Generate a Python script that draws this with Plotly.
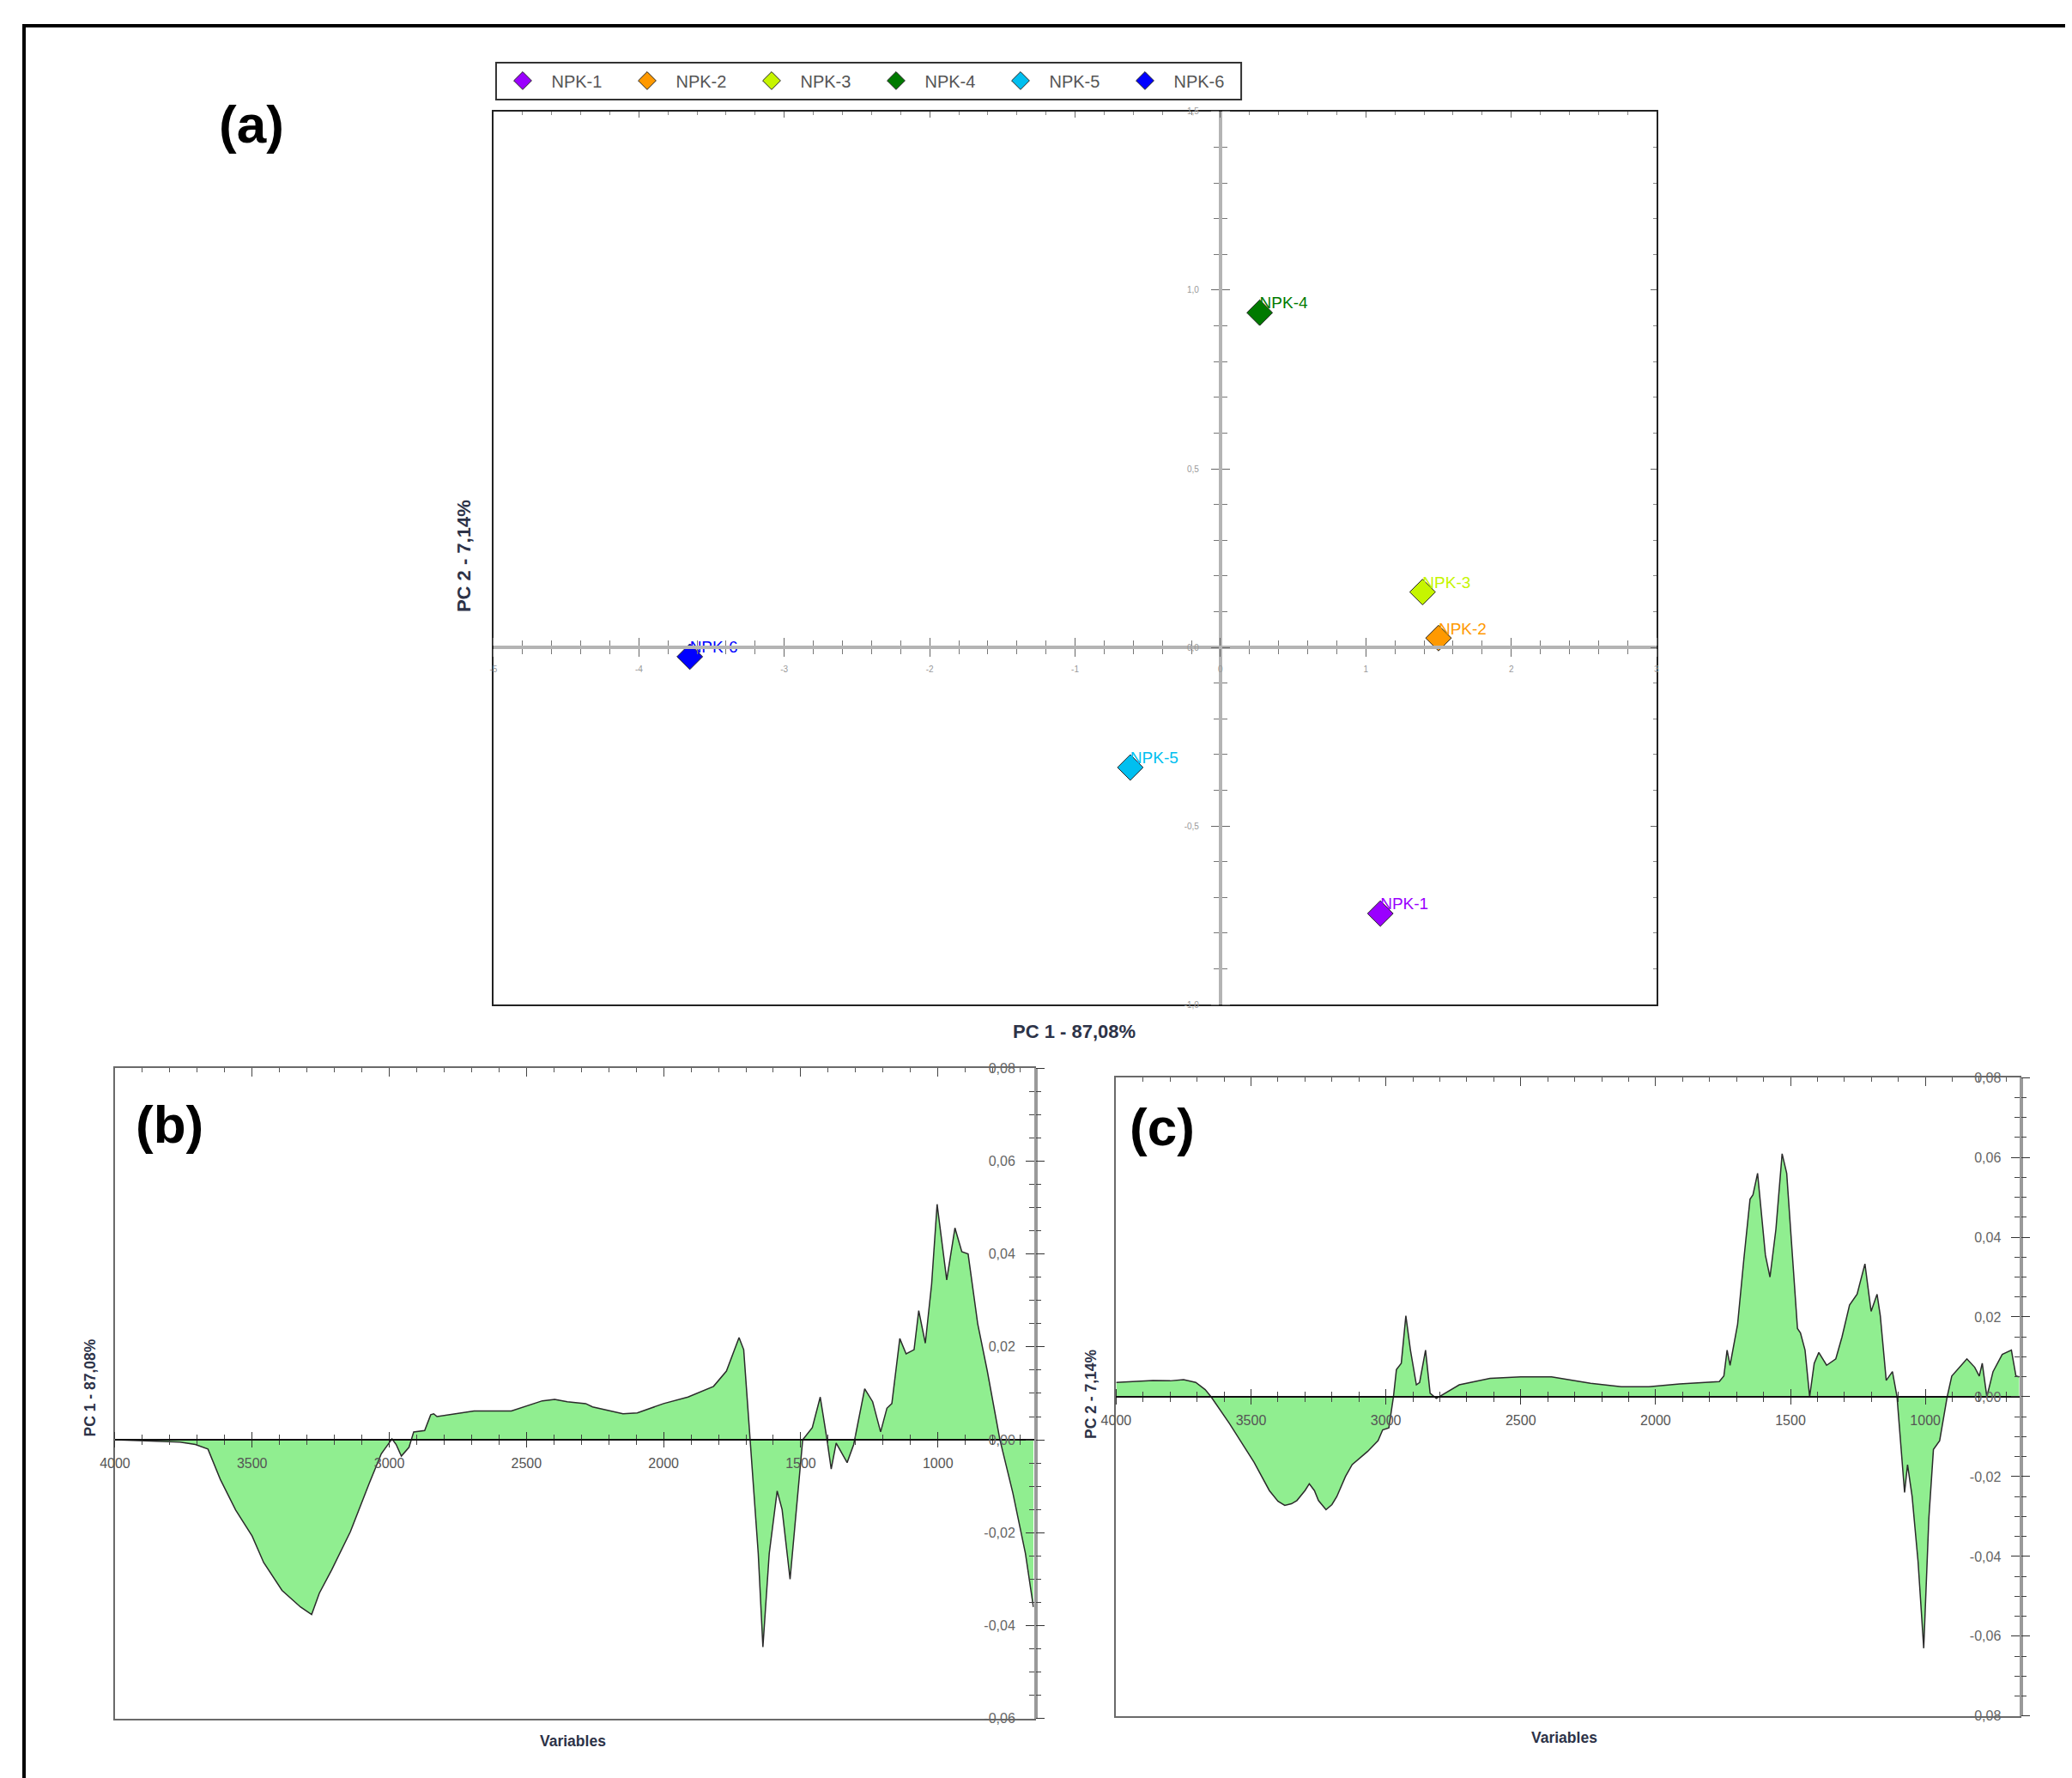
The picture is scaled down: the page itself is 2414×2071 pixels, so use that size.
import plotly.graph_objects as go

# figure size / mapping from reference pixel positions to figure paper coordinates
W, H = 2406, 2073
S = 2430 / 2414
OX, OY = 24, 14

# ---------------- data ----------------
samples = ["NPK-1", "NPK-2", "NPK-3", "NPK-4", "NPK-5", "NPK-6"]
pc1_scores = [1.10, 1.50, 1.39, 0.27, -0.62, -3.65]
pc2_scores = [-0.745, 0.026, 0.155, 0.937, -0.336, -0.026]
sample_colors = ["#9A00FF", "#FF9900", "#C6F500", "#007A00", "#00BFF0", "#0000FF"]

a_xtick_vals = [-5, -4, -3, -2, -1, 0, 1, 2, 3]
a_xtick_text = ["-5", "-4", "-3", "-2", "-1", "0", "1", "2", "3"]
a_ytick_vals = [-1.0, -0.5, 0.0, 0.5, 1.0, 1.5]
a_ytick_text = ["-1,0", "-0,5", "0,0", "0,5", "1,0", "1,5"]

wavenumber_pc1 = [4000, 3900, 3800, 3763, 3707, 3661, 3616, 3560, 3500, 3458, 3391, 3323,
                  3283, 3255, 3210, 3142, 3074, 3029, 3001, 2990, 2975, 2956, 2928, 2911,
                  2871, 2849, 2838, 2826, 2691, 2555, 2442, 2397, 2351, 2284, 2259, 2148,
                  2096, 2000, 1911, 1818, 1771, 1742, 1725, 1708, 1684, 1655, 1638, 1615,
                  1586, 1568, 1539, 1516, 1493, 1458, 1429, 1406, 1389, 1371, 1331, 1307,
                  1267, 1238, 1209, 1186, 1168, 1139, 1116, 1087, 1070, 1046, 1023, 1003,
                  968, 938, 913, 890, 855, 820, 774, 727, 681, 652]
loading_pc1 = [0.0, -0.0002, -0.0003, -0.0005, -0.001, -0.002, -0.0085, -0.0151, -0.0207,
               -0.0264, -0.0324, -0.036, -0.0376, -0.033, -0.028, -0.0198, -0.0095, -0.003,
               -0.0007, 0.0002, -0.001, -0.0035, -0.0016, 0.0017, 0.002, 0.0054, 0.0056,
               0.005, 0.0062, 0.0062, 0.0084, 0.0087, 0.0082, 0.0078, 0.0071, 0.0056,
               0.0058, 0.0078, 0.0092, 0.0115, 0.0148, 0.0194, 0.022, 0.0194, 0.0, -0.0245,
               -0.0446, -0.0245, -0.011, -0.015, -0.030, -0.015, 0.0, 0.0026, 0.0092,
               0.0007, -0.0063, -0.0007, -0.0049, -0.001, 0.011, 0.0082, 0.0017, 0.0068,
               0.0078, 0.0218, 0.0185, 0.0194, 0.0278, 0.0208, 0.0335, 0.0507, 0.0344,
               0.0456, 0.0405, 0.040, 0.025, 0.0148, 0.0, -0.0114, -0.0245, -0.036]

wavenumber_pc2 = [4000, 3930, 3864, 3800, 3750, 3705, 3670, 3648, 3580, 3489, 3432, 3400,
                  3375, 3350, 3330, 3300, 3284, 3265, 3250, 3222, 3200, 3182, 3150, 3125,
                  3068, 3029, 3012, 2989, 2972, 2961, 2943, 2926, 2909, 2887, 2875, 2853,
                  2836, 2813, 2796, 2728, 2614, 2500, 2386, 2309, 2241, 2127, 2025, 1911,
                  1764, 1747, 1735, 1724, 1696, 1673, 1650, 1639, 1622, 1593, 1576, 1554,
                  1531, 1514, 1491, 1474, 1463, 1446, 1429, 1412, 1395, 1366, 1332, 1309,
                  1281, 1253, 1224, 1201, 1179, 1167, 1145, 1122, 1105, 1077, 1066, 1049,
                  1027, 1006, 987, 970, 947, 919, 902, 846, 817, 800, 789, 772, 749, 715,
                  681, 664, 652]
loading_pc2 = [0.0036, 0.0038, 0.0041, 0.0040, 0.0043, 0.0036, 0.0018, 0.0, -0.0067, -0.0164,
               -0.0235, -0.0262, -0.0272, -0.0268, -0.026, -0.0235, -0.0218, -0.0235, -0.026,
               -0.0283, -0.027, -0.025, -0.020, -0.017, -0.0137, -0.011, -0.0083, -0.0078,
               0.0, 0.0068, 0.0084, 0.0203, 0.0117, 0.003, 0.0036, 0.0117, 0.0009, -0.0004,
               0.0003, 0.003, 0.0046, 0.005, 0.005, 0.0041, 0.0034, 0.0025, 0.0025, 0.0032,
               0.0038, 0.0052, 0.0117, 0.0079, 0.0182, 0.0344, 0.0495, 0.0506, 0.056, 0.0355,
               0.030, 0.042, 0.0609, 0.056, 0.0344, 0.0171, 0.016, 0.0117, 0.0, 0.0084,
               0.0111, 0.0079, 0.0095, 0.015, 0.023, 0.0257, 0.0333, 0.0214, 0.0257, 0.0203,
               0.0041, 0.0063, 0.0, -0.024, -0.017, -0.025, -0.0413, -0.063, -0.0305, -0.0132,
               -0.011, 0.0, 0.0052, 0.0095, 0.0074, 0.0052, 0.0084, 0.0, 0.0063, 0.0106,
               0.0117, 0.0052, 0.005]

spec_xtick_vals = [4000, 3500, 3000, 2500, 2000, 1500, 1000]
spec_xtick_text = ["4000", "3500", "3000", "2500", "2000", "1500", "1000"]
b_ytick_vals = [-0.06, -0.04, -0.02, 0.0, 0.02, 0.04, 0.06, 0.08]
b_ytick_text = ["-0,06", "-0,04", "-0,02", "0,00", "0,02", "0,04", "0,06", "0,08"]
c_ytick_vals = [-0.08, -0.06, -0.04, -0.02, 0.0, 0.02, 0.04, 0.06, 0.08]
c_ytick_text = ["-0,08", "-0,06", "-0,04", "-0,02", "0,00", "0,02", "0,04", "0,06", "0,08"]

FONT = "Liberation Sans, Arial, sans-serif"


def fx(px):
    return (px * S - OX) / W


def fy(py):
    return 1 - (py * S - OY) / H


fig = go.Figure()

# ---------------- panel (a) ----------------
xa = [fx(574), fx(1932)]
ya = [fy(1170), fy(128)]
a_xr = [-5, 3]
a_yr = [-1.0, 1.5]
x0a = xa[0] + (0 - a_xr[0]) / (a_xr[1] - a_xr[0]) * (xa[1] - xa[0])
y0a = ya[0] + (0 - a_yr[0]) / (a_yr[1] - a_yr[0]) * (ya[1] - ya[0])

for name, px_, py_, col in zip(samples, pc1_scores, pc2_scores, sample_colors):
    fig.add_trace(go.Scatter(
        x=[px_], y=[py_], mode="markers", name=name, xaxis="x", yaxis="y",
        marker=dict(symbol="diamond", size=23, color=col,
                    line=dict(color="#222222", width=1)),
        hoverinfo="skip"))
fig.add_trace(go.Scatter(
    x=pc1_scores, y=pc2_scores, mode="text", text=samples, textposition="top right",
    textfont=dict(size=19, color=sample_colors, family=FONT),
    showlegend=False, xaxis="x", yaxis="y", hoverinfo="skip"))

# dummy traces so overlay axes get drawn
for xr_, yr_ in [("x2", "y"), ("x3", "y"), ("x", "y2"), ("x", "y3"),
                 ("x4", "y5"), ("x5", "y4"), ("x6", "y4"),
                 ("x7", "y8"), ("x8", "y7"), ("x9", "y7")]:
    fig.add_trace(go.Scatter(x=[None], y=[None], xaxis=xr_, yaxis=yr_,
                             showlegend=False, hoverinfo="skip", mode="lines"))

# ---------------- spectral panels ----------------
fig.add_trace(go.Scatter(
    x=wavenumber_pc1, y=loading_pc1, xaxis="x4", yaxis="y4", mode="lines",
    line=dict(color="#2b2b2b", width=1.5), fill="tozeroy", fillcolor="#90EE90",
    showlegend=False, hoverinfo="skip"))
fig.add_trace(go.Scatter(
    x=wavenumber_pc2, y=loading_pc2, xaxis="x7", yaxis="y7", mode="lines",
    line=dict(color="#2b2b2b", width=1.5), fill="tozeroy", fillcolor="#90EE90",
    showlegend=False, hoverinfo="skip"))

layout = dict(
    width=W, height=H, margin=dict(l=0, r=0, t=0, b=0),
    paper_bgcolor="white", plot_bgcolor="white",
    font=dict(family=FONT, color="#333"),
    showlegend=True,
    legend=dict(orientation="h", x=fx(574.5), y=fy(92), xanchor="left", yanchor="middle",
                borderwidth=0, bgcolor="rgba(0,0,0,0)",
                font=dict(size=20, color="#555", family=FONT), entrywidth=73,
                itemwidth=57, itemsizing="trace"),
)

common = dict(showgrid=False, zeroline=False)

layout["xaxis"] = dict(domain=xa, range=a_xr, anchor="y", side="top", showline=True,
                       mirror=True, linecolor="#222", linewidth=2, ticks="inside",
                       ticklen=7, tickcolor="#666", dtick=1, tick0=0,
                       minor=dict(ticks="inside", ticklen=4, dtick=0.2, tick0=0, tickcolor="#888"),
                       showticklabels=False, **common)
layout["yaxis"] = dict(domain=ya, range=a_yr, anchor="x", side="right", showline=True,
                       mirror=True, linecolor="#222", linewidth=2, ticks="inside",
                       ticklen=7, tickcolor="#666", dtick=0.5, tick0=0,
                       minor=dict(ticks="inside", ticklen=4, dtick=0.1, tick0=0, tickcolor="#888"),
                       showticklabels=False, **common)
zero_a_x = dict(overlaying="x", anchor="free", position=y0a, range=a_xr, showline=True,
                linecolor="#b4b4b4", linewidth=4, ticks="outside", ticklen=9, tickwidth=1,
                tickcolor="#666", tickmode="array", tickvals=a_xtick_vals,
                minor=dict(ticks="outside", ticklen=6, dtick=0.2, tick0=0, tickcolor="#777"),
                **common)
layout["xaxis2"] = dict(zero_a_x, side="bottom", ticktext=a_xtick_text, ticklabelstandoff=6,
                        tickfont=dict(size=10, color="#999"))
layout["xaxis3"] = dict(zero_a_x, side="top", showticklabels=False)
zero_a_y = dict(overlaying="y", anchor="free", position=x0a, range=a_yr, showline=True,
                linecolor="#b4b4b4", linewidth=4, ticks="outside", ticklen=9, tickwidth=1,
                tickcolor="#666", tickmode="array", tickvals=a_ytick_vals,
                minor=dict(ticks="outside", ticklen=6, dtick=0.1, tick0=0, tickcolor="#777"),
                **common)
layout["yaxis2"] = dict(zero_a_y, side="left", ticktext=a_ytick_text, ticklabelstandoff=12,
                        tickfont=dict(size=10, color="#999"))
layout["yaxis3"] = dict(zero_a_y, side="right", showticklabels=False)


def spectral(ix, iy, iy2, izx1, izx2, box, yr, ytv, ytt):
    xd = [fx(box[0]), fx(box[2])]
    yd = [fy(box[3]), fy(box[1])]
    xr = [4000, 650]
    y0 = yd[0] + (0 - yr[0]) / (yr[1] - yr[0]) * (yd[1] - yd[0])
    layout[f"xaxis{ix}"] = dict(domain=xd, range=xr, anchor=f"y{iy}", side="top",
                                showline=True, mirror=True, linecolor="#6a6a6a", linewidth=2,
                                ticks="inside", ticklen=10, tickcolor="#444", dtick=500,
                                tick0=0,
                                minor=dict(ticks="inside", ticklen=5, dtick=100, tick0=0,
                                           tickcolor="#555"),
                                showticklabels=False, **common)
    layout[f"yaxis{iy}"] = dict(domain=yd, range=yr, anchor=f"x{ix}", side="right",
                                showline=True, mirror=True, linecolor="#6a6a6a", linewidth=2,
                                ticks="outside", ticklen=10, tickcolor="#333",
                                tickmode="array", tickvals=ytv, ticktext=ytt,
                                ticklabelposition="inside", ticklabelstandoff=22,
                                ticklabeloverflow="allow",
                                tickfont=dict(size=16, color="#666"),
                                minor=dict(ticks="outside", ticklen=6, dtick=0.005, tick0=0,
                                           tickcolor="#444"),
                                **common)
    layout[f"yaxis{iy2}"] = dict(overlaying=f"y{iy}", anchor=f"x{ix}", side="right",
                                 range=yr, showline=True, linecolor="#9a9a9a", linewidth=4,
                                 ticks="inside", ticklen=10, tickcolor="#333",
                                 tickmode="array", tickvals=ytv, showticklabels=False,
                                 minor=dict(ticks="inside", ticklen=6, dtick=0.005, tick0=0,
                                            tickcolor="#444"),
                                 **common)
    zx = dict(overlaying=f"x{ix}", anchor="free", position=y0, range=xr, showline=True,
              linecolor="#111", linewidth=2, ticks="outside", ticklen=8, tickcolor="#333",
              tickmode="array", tickvals=spec_xtick_vals, layer="above traces",
              minor=dict(ticks="outside", ticklen=5, dtick=100, tick0=0, tickcolor="#444"),
              **common)
    layout[f"xaxis{izx1}"] = dict(zx, side="bottom", ticktext=spec_xtick_text,
                                  ticklabelstandoff=5,
                                  tickfont=dict(size=16, color="#555"))
    layout[f"xaxis{izx2}"] = dict(zx, side="top", showticklabels=False)


spectral(4, 4, 5, 5, 6, (132, 1244, 1205, 2003), [-0.06, 0.08], b_ytick_vals, b_ytick_text)
spectral(7, 7, 8, 8, 9, (1301, 1255, 2356, 2000), [-0.08, 0.08], c_ytick_vals, c_ytick_text)


def ann(px, py, text, size, color="#2d3348", angle=0):
    return dict(x=fx(px), y=fy(py), xref="paper", yref="paper", text=text, showarrow=False,
                xanchor="center", yanchor="middle", textangle=angle,
                font=dict(size=size, color=color, family=FONT))


layout["annotations"] = [
    ann(291, 143, "<b>(a)</b>", 62, "#000"),
    ann(196, 1310, "<b>(b)</b>", 62, "#000"),
    ann(1355, 1313, "<b>(c)</b>", 62, "#000"),
    ann(1252, 1201, "<b>PC 1 - 87,08%</b>", 22),
    ann(539, 647, "<b>PC 2 - 7,14%</b>", 22, angle=-90),
    ann(103, 1617, "<b>PC 1 - 87,08%</b>", 17.5, angle=-90),
    ann(667, 2029, "<b>Variables</b>", 17.5),
    ann(1272, 1624, "<b>PC 2 - 7,14%</b>", 17.5, angle=-90),
    ann(1824, 2025, "<b>Variables</b>", 17.5),
]
layout["shapes"] = [
    dict(type="rect", xref="paper", yref="paper", x0=max(fx(23), 2 / W), y0=-0.02,
         x1=1.02, y1=fy(28), line=dict(color="#000", width=4)),
    dict(type="rect", xref="paper", yref="paper", x0=fx(577), x1=fx(1447),
         y0=fy(114), y1=fy(71), line=dict(color="#333", width=2)),
]

fig.update_layout(**layout)
fig.write_html("out.html")
